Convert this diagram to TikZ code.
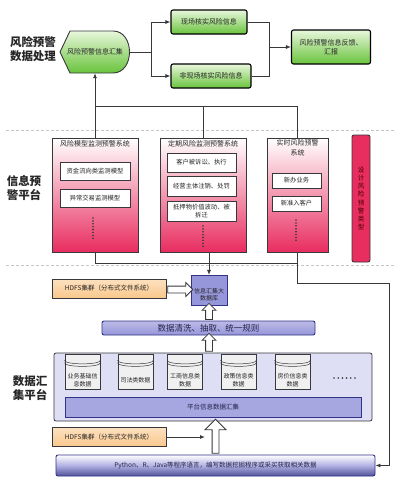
\documentclass[tikz,border=0pt]{standalone}
\usepackage{fontspec}
\setmainfont{Noto Sans CJK SC}
\usetikzlibrary{shapes.geometric,shapes.arrows,arrows.meta,calc}

\definecolor{frame}{RGB}{55,55,60}
\definecolor{leafgreen}{RGB}{105,195,60}
\definecolor{palegreen}{RGB}{232,247,220}
\definecolor{crimson}{RGB}{232,45,95}
\definecolor{sand}{RGB}{250,200,140}
\definecolor{lilac}{RGB}{150,150,218}
\definecolor{palelilac}{RGB}{222,222,244}
\definecolor{ink}{RGB}{35,35,75}
\definecolor{navy}{RGB}{50,50,135}

\tikzset{
  wire/.style={draw=frame, line width=0.8pt},
  arrowed/.style={-{Latex[length=5pt,width=4pt]}},
  tierline/.style={draw=gray!45, densely dashed, line width=0.7pt},
  tierlabel/.style={font=\fontsize{11.5}{14}\selectfont\bfseries, align=center, text=black!85},
  greenbox/.style={draw=black, line width=1.1pt, rounded corners=2pt, top color=palegreen, bottom color=leafgreen, font=\fontsize{7}{9}\selectfont, align=center, inner sep=1pt, text=black!85},
  syspanel/.style={draw=frame, line width=0.9pt, top color=white, bottom color=crimson, minimum height=114pt},
  systitle/.style={anchor=north, font=\fontsize{7}{9.5}\selectfont, align=center, inner sep=1pt, text=black!85},
  modelbox/.style={draw=frame, line width=0.9pt, fill=white, font=\fontsize{6.3}{7.8}\selectfont, align=center, inner sep=1pt, text=black!85},
  sandbox/.style={draw=frame, line width=0.8pt, top color=sand!55, bottom color=sand, minimum width=114pt, minimum height=19pt, font=\fontsize{6.5}{8}\selectfont, text=black!85},
  datacyl/.style={cylinder, shape border rotate=90, aspect=0.3, draw=frame, line width=0.7pt, cylinder uses custom fill, cylinder end fill=white, cylinder body fill=gray!12, minimum width=35pt, minimum height=35pt, inner sep=0pt},
  cyltext/.style={font=\fontsize{6}{7.5}\selectfont, align=center, inner sep=0pt, text=black!85},
  hollow/.style={single arrow, draw=frame, fill=white, line width=0.8pt, inner xsep=0pt, inner ysep=3pt, single arrow head extend=3.5pt}
}

\begin{document}
\begin{tikzpicture}[x=1pt, y=-1pt]
\useasboundingbox (0,0) rectangle (400,483);

% tier lines
\draw[tierline] (6,130.5) -- (396,130.5);
\draw[tierline] (6,265) -- (396,265);

\node[tierlabel] (lab1) at (33,49) {风险预警\\数据处理};
\node[tierlabel] (lab2) at (24,188) {信息预\\警平台};
\node[tierlabel] (lab3) at (30,388) {数据汇\\集平台};

% top tier
\path[draw=frame, line width=0.9pt, top color=palegreen, bottom color=leafgreen] (60,52) -- (70,31) -- (113,31) .. controls (135,31) and (135,73) .. (113,73) -- (70,73) -- cycle;
\node[font=\fontsize{7}{9}\selectfont, text=black!85, minimum width=70pt, minimum height=42pt, inner sep=0pt] (collect) at (95,52) {风险预警信息汇集};
\node[greenbox, minimum width=76pt, minimum height=24pt] (onsite) at (209,22) {现场核实风险信息};
\node[greenbox, minimum width=80pt, minimum height=24pt] (offsite) at (211,76) {非现场核实风险信息};
\node[greenbox, minimum width=79pt, minimum height=34pt] (report) at (331,47) {风险预警信息反馈、\\汇报};
\coordinate (fork) at (151,52);
\coordinate (join) at (269,47);
\draw[wire] (collect.east) -- (fork);
\draw[wire, arrowed] (fork) |- (onsite.west);
\draw[wire, arrowed] (fork) |- (offsite.west);
\draw[wire] (onsite.east) -| (join);
\draw[wire] (offsite.east) -| (join);
\draw[wire, arrowed] (join) -- (report.west);

% middle tier
\node[syspanel, minimum width=86pt] (sys1) at (95,195) {};
\node[systitle] (sys1t) at ([yshift=-2pt]sys1.north) {风险模型监测预警系统};
\node[modelbox, minimum width=70pt, minimum height=18pt] (m1) at (95,171) {资金流向类监测模型};
\node[modelbox, minimum width=70pt, minimum height=18pt] (m2) at (95,198) {异常交易监测模型};
\foreach \k in {0,...,7} \fill[frame] (93,{218+2.9*\k}) circle (0.9pt);

\node[syspanel, minimum width=86pt] (sys2) at (203,195) {};
\node[systitle] (sys2t) at ([yshift=-2pt]sys2.north) {定期风险监测预警系统};
\node[modelbox, minimum width=69pt, minimum height=19pt] (p1) at (201.5,162.5) {客户被诉讼、执行};
\node[modelbox, minimum width=69pt, minimum height=20pt] (p2) at (201.5,186) {经营主体注销、处罚};
\node[modelbox, minimum width=69pt, minimum height=20pt] (p3) at (201.5,211) {抵押物价值波动、被\\拆迁};
\foreach \k in {0,...,7} \fill[frame] (203,{226+2.9*\k}) circle (0.9pt);

\node[syspanel, minimum width=61pt] (sys3) at (297.5,195) {};
\node[systitle] (sys3t) at ([yshift=-1pt]sys3.north) {实时风险预警\\系统};
\node[modelbox, minimum width=49pt, minimum height=15pt] (r1) at (296.5,180.5) {新办业务};
\node[modelbox, minimum width=49pt, minimum height=15pt] (r2) at (296.5,203.5) {新准入客户};
\foreach \k in {0,...,7} \fill[frame] (296,{220+2.9*\k}) circle (0.9pt);

\node[draw=frame, line width=0.9pt, rounded corners=2pt, fill=crimson, minimum width=18pt, minimum height=127pt, font=\fontsize{6.5}{8.2}\selectfont, align=center, text=black!70!red] (design) at (361,198.5) {设\\计\\风\\险\\预\\警\\类\\型};

\coordinate (upbus) at (0,106);
\coordinate (lowbus) at (0,263);
\coordinate (bend) at (389,283);
\draw[wire, arrowed] (sys1.north) -- (collect.south);
\draw[wire] (sys3.north) |- (sys1.north |- upbus);
\draw[wire] (sys2.north) -- (sys2.north |- upbus);
\draw[wire] (sys1.south) |- (sys3.south |- lowbus);
\draw[wire] (sys3.south) |- (bend);

% lower tier
\node[sandbox] (hdfs1) at (109,288.5) {HDFS集群（分布式文件系统）};
\node[datacyl, cylinder body fill=lilac, cylinder end fill=lilac!55, draw=navy, aspect=0.5, minimum width=36pt, minimum height=30pt] (bigdb) at (209,290.5) {};
\node[cyltext] (bigdbt) at (209,294.5) {信息汇集大\\数据库};
\draw[wire, arrowed] (sys2.south -| bigdb.north) -- (bigdb.north);
\node[hollow, minimum height=25pt] (a1) at ($(hdfs1.east)!0.5!(bigdb.west)$) {};

\node[draw=navy, line width=0.9pt, rounded corners=2pt, top color=lilac!65, bottom color=lilac, minimum width=213pt, minimum height=14pt, inner sep=0pt, font=\fontsize{8.5}{10}\selectfont, text=ink] (clean) at (208.5,328) {数据清洗、抽取、统一规则};
\node[hollow, rotate=90, minimum height=16pt] (a2) at ($(clean.north -| bigdb.south)!0.5!(bigdb.south)$) {};

\node[draw=frame, line width=0.8pt, rounded corners=2pt, fill=palelilac, minimum width=318pt, minimum height=68pt] (pool) at (213,387) {};
\node[hollow, rotate=90, minimum height=18pt] (a3) at ($(pool.north -| bigdb.south)!0.5!(clean.south -| bigdb.south)$) {};
\node[datacyl] (d1) at (82.5,372.5) {};
\node[datacyl] (d2) at (135.5,372.5) {};
\node[datacyl] (d3) at (185,372.5) {};
\node[datacyl] (d4) at (238.5,372.5) {};
\node[datacyl] (d5) at (292.5,372.5) {};
\foreach \c in {d1,d2,d3,d4,d5}
  \foreach \s in {5.5,8}
    \draw[frame, line width=0.5pt] ([yshift=-\s pt]\c.before top) .. controls +(0pt,-4.7pt) and +(0pt,-4.7pt) .. ([yshift=-\s pt]\c.after top);
\node[cyltext] (d1t) at (82.5,380) {业务基础信\\息数据};
\node[cyltext] (d2t) at (135.5,380) {司法类数据};
\node[cyltext] (d3t) at (185,380) {工商信息类\\数据};
\node[cyltext] (d4t) at (238.5,380) {政策信息类\\数据};
\node[cyltext] (d5t) at (292.5,380) {房价信息类\\数据};
\foreach \k in {0,...,5} \fill[frame] ({334+4.2*\k},378) circle (0.9pt);
\node[draw=navy, line width=0.8pt, fill=lilac!85, minimum width=296pt, minimum height=20pt, font=\fontsize{6.5}{8}\selectfont, text=ink] (poolbar) at (213,407) {平台信息数据汇集};

\node[sandbox] (hdfs2) at (109,437) {HDFS集群（分布式文件系统）};
\coordinate (hdfstip) at (205,437);
\draw[wire, arrowed] (hdfs2.east) -- (hdfstip);

\node[draw=navy, line width=0.9pt, rounded corners=2pt, top color=white, bottom color=navy!85, middle color=lilac!75, minimum width=319pt, minimum height=21pt, font=\fontsize{6.5}{8}\selectfont, text=ink] (python) at (215.5,465.5) {Python、R、Java等程序语言，编写数据挖掘程序或采买获取相关数据};
\node[hollow, rotate=90, minimum height=34pt, single arrow head extend=7pt] (a4) at ($(python.north)!0.5!(pool.south -| python.north)$) {};
\draw[wire, arrowed] (bend) |- (python.east);

\end{tikzpicture}
\end{document}
